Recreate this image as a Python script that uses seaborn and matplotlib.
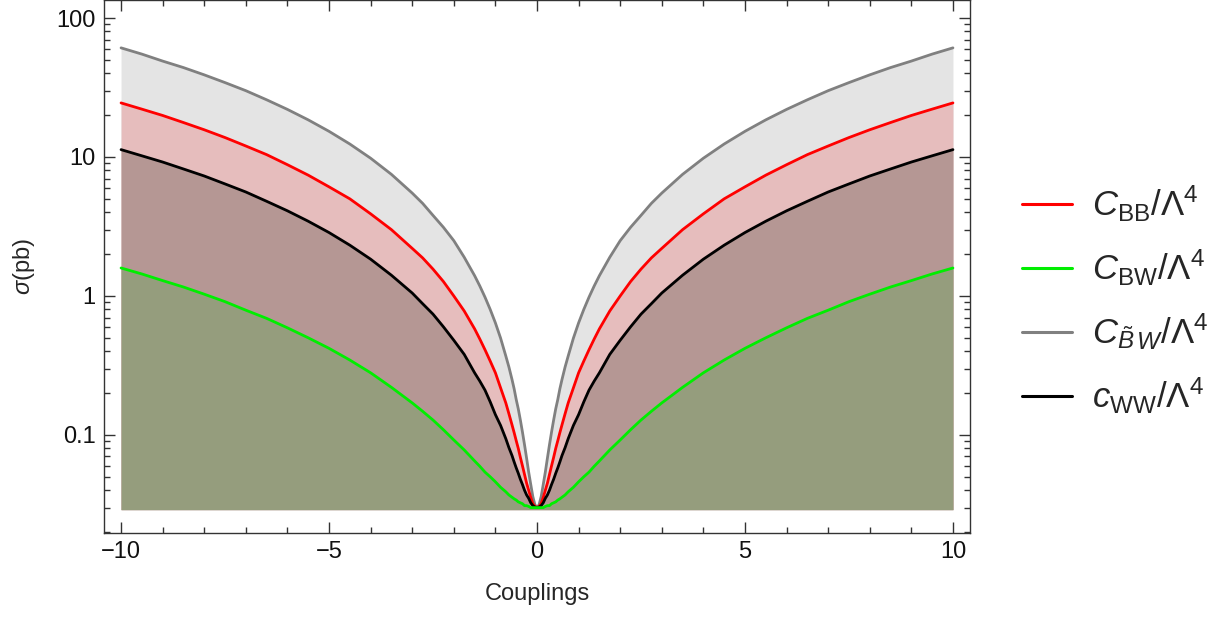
import matplotlib
matplotlib.use("Agg")
import matplotlib.pyplot as plt
from matplotlib.lines import Line2D
from matplotlib.ticker import LogLocator, MultipleLocator, NullFormatter
import numpy as np
import pandas as pd
import seaborn as sns

# ---- data (curves are symmetric in the coupling) ----
coupling_half = [0, 0.05, 0.1, 0.15, 0.2, 0.25, 0.3, 0.35, 0.4, 0.45, 0.5, 0.55, 0.6, 0.675,
                 0.75, 0.875, 1, 1.125, 1.25, 1.375, 1.5, 1.75, 2, 2.25, 2.5, 2.75, 3,
                 3.5, 4, 4.5, 5, 5.5, 6, 6.5, 7, 7.5, 8, 8.5, 9, 9.5, 10]
sigma_cBtW_half = [0.030, 0.0315, 0.036, 0.044, 0.054, 0.068, 0.085, 0.105, 0.128, 0.154,
                   0.18, 0.215, 0.25, 0.308, 0.37, 0.497, 0.64, 0.80, 0.98, 1.18, 1.4, 1.9,
                   2.5, 3.12, 3.8, 4.64, 5.5,
                   7.5, 9.8, 12.4, 15.3, 18.5, 22, 25.8, 30, 34.3, 39, 44, 49, 55, 61]
sigma_cBB_half = [0.030, 0.0306, 0.032, 0.0355, 0.040, 0.045, 0.052, 0.060, 0.069, 0.080,
                  0.091, 0.104, 0.118, 0.142, 0.17, 0.218, 0.28, 0.34, 0.41, 0.49, 0.58, 0.78,
                  1.0, 1.27, 1.56, 1.88, 2.2,
                  3.0, 3.9, 5.0, 6.1, 7.4, 8.8, 10.4, 12, 13.8, 15.7, 17.7, 19.9, 22.1, 24.5]
sigma_cWW_half = [0.030, 0.0303, 0.031, 0.0325, 0.035, 0.037, 0.040, 0.044, 0.048, 0.053,
                  0.058, 0.064, 0.071, 0.081, 0.094, 0.117, 0.14, 0.173, 0.21, 0.244, 0.28,
                  0.38, 0.48, 0.60, 0.74, 0.88, 1.05,
                  1.41, 1.84, 2.32, 2.86, 3.45, 4.1, 4.8, 5.6, 6.4, 7.3, 8.2, 9.2, 10.2, 11.3]
sigma_cBW_half = [0.030, 0.030, 0.030, 0.030, 0.0306, 0.031, 0.031, 0.032, 0.0325, 0.033,
                  0.034, 0.0347, 0.0356, 0.037, 0.039, 0.042, 0.046, 0.050, 0.054, 0.0595,
                  0.065, 0.078, 0.092, 0.109, 0.128, 0.148, 0.17,
                  0.22, 0.28, 0.346, 0.42, 0.50, 0.59, 0.69, 0.79, 0.91, 1.03, 1.16, 1.29,
                  1.44, 1.59]
fill_base = 0.029

x_ticks = [-10, -5, 0, 5, 10]
x_tick_labels = ["\u221210", "\u22125", "0", "5", "10"]
y_ticks = [0.1, 1, 10, 100]
y_tick_labels = ["0.1", "1", "10", "100"]

labels = {
    "cBB": r"$C_{\mathrm{BB}}/\Lambda^4$",
    "cBW": r"$C_{\mathrm{BW}}/\Lambda^4$",
    "cBtW": r"$C_{\tilde{B}\,W}/\Lambda^4$",
    "cWW": r"$c_{\mathrm{WW}}/\Lambda^4$",
}
colors = {"cBB": "#ff0000", "cBW": "#00ee00", "cBtW": "#808080", "cWW": "#000000"}
fills = {"cBtW": "#e4e4e4", "cBB": "#e6bdbd", "cWW": "#b59794", "cBW": "#959d7d"}


def mirror_x(h):
    return [-v for v in h[:0:-1]] + list(h)


def mirror_y(h):
    return list(h[:0:-1]) + list(h)


x = mirror_x(coupling_half)
series = {
    "cBtW": mirror_y(sigma_cBtW_half),
    "cBB": mirror_y(sigma_cBB_half),
    "cWW": mirror_y(sigma_cWW_half),
    "cBW": mirror_y(sigma_cBW_half),
}

sns.set_style("ticks")
plt.rcParams["font.family"] = ["Liberation Sans", "DejaVu Sans"]
plt.rcParams["mathtext.fontset"] = "custom"
plt.rcParams["mathtext.rm"] = "Liberation Sans"
plt.rcParams["mathtext.it"] = "Liberation Sans:italic"
plt.rcParams["mathtext.bf"] = "Liberation Sans:bold"

W, H = 1228, 617
fig = plt.figure(figsize=(W / 100, H / 100), dpi=100)
ax = fig.add_axes([104 / W, 1 - 533 / H, (970 - 104) / W, 533 / H])

# filled regions (drawn from the largest to the smallest curve)
for key in ["cBtW", "cBB", "cWW", "cBW"]:
    ax.fill_between(x, fill_base, series[key], color=fills[key], lw=0, zorder=1)

# curves
for key in ["cBtW", "cBB", "cWW", "cBW"]:
    df = pd.DataFrame({"Couplings": x, "sigma": series[key]})
    sns.lineplot(data=df, x="Couplings", y="sigma", color=colors[key], lw=2.0,
                 ax=ax, legend=False, zorder=3)

ax.set_yscale("log")
ax.set_xlim(-10.41, 10.41)
ax.set_ylim(0.0197, 134.8)

ax.set_xticks(x_ticks, x_tick_labels)
ax.xaxis.set_minor_locator(MultipleLocator(1))
ax.set_yticks(y_ticks, y_tick_labels)
ax.yaxis.set_minor_locator(LogLocator(base=10, subs=np.arange(2, 10)))
ax.yaxis.set_minor_formatter(NullFormatter())

ax.tick_params(which="both", direction="in", top=True, right=True,
               color="#333333", width=1, labelsize=17, labelcolor="#111111")
ax.tick_params(which="major", length=8, pad=6)
ax.tick_params(which="minor", length=4)
for s in ax.spines.values():
    s.set_color("#333333")
    s.set_linewidth(1)

ax.set_xlabel("Couplings", fontsize=17, labelpad=14)
ax.set_ylabel(r"$\sigma$(pb)", fontsize=17, labelpad=14)

handles = [Line2D([], [], color=colors[k], lw=2.2) for k in ["cBB", "cBW", "cBtW", "cWW"]]
fig.legend(handles, [labels[k] for k in ["cBB", "cBW", "cBtW", "cWW"]],
           loc="center left", bbox_to_anchor=(1022 / W, 1 - 300 / H), frameon=False,
           fontsize=25, handlelength=1.45, handletextpad=0.58, labelspacing=0.68,
           borderpad=0, borderaxespad=0)

fig.savefig("out.png", dpi=100)
